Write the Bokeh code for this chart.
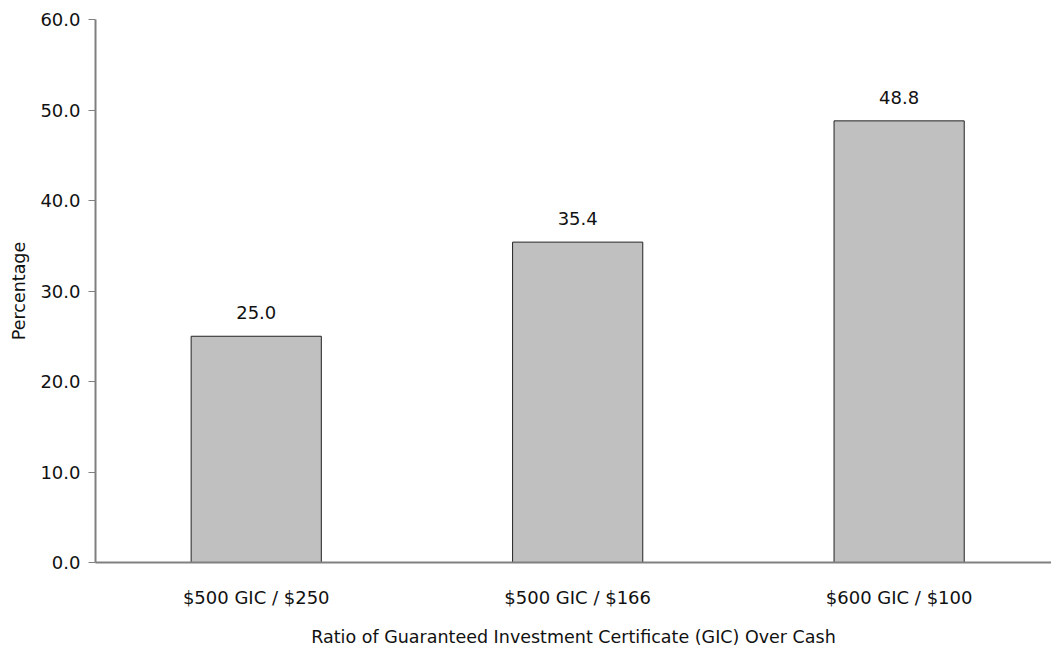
from bokeh.plotting import figure
from bokeh.models import ColumnDataSource, FixedTicker, Range1d
from bokeh.core.properties import value
from bokeh.embed import file_html
from bokeh.resources import INLINE

categories = ["$500 GIC / $250", "$500 GIC / $166", "$600 GIC / $100"]
percentages = [25.0, 35.4, 48.8]
y_ticks = [0, 10, 20, 30, 40, 50, 60]

FONT = "DejaVu Sans"
FS = "18px"

xs = list(range(len(categories)))
src = ColumnDataSource(dict(x=xs, top=percentages,
                            label=[f"{v:.1f}" for v in percentages]))

p = figure(width=1043, height=640, output_backend="svg", toolbar_location=None,
           x_range=Range1d(-0.5, 2.474), y_range=Range1d(0, 60),
           min_border_left=95, min_border_right=0, min_border_top=19,
           min_border_bottom=78)
p.frame_height = 543
p.frame_width = 956
p.outline_line_color = None
p.xgrid.visible = False
p.ygrid.visible = False

p.vbar(x="x", top="top", width=0.405, source=src, fill_color="#c0c0c0",
       line_color="#222222", line_width=1)
p.text(x="x", y="top", text="label", source=src, text_align="center",
       text_baseline="bottom", y_offset=-17, text_font=value(FONT),
       text_font_size=FS, text_color="#111111")

p.yaxis.ticker = FixedTicker(ticks=y_ticks)
p.yaxis.formatter.use_scientific = False
p.yaxis.major_label_overrides = {t: f"{t:.1f}" for t in y_ticks}
p.yaxis.minor_tick_line_color = None
p.yaxis.major_tick_out = 7
p.yaxis.major_tick_in = 0
p.yaxis.axis_line_color = "#808080"
p.yaxis.major_tick_line_color = "#808080"
p.yaxis.axis_label = "Percentage"

p.xaxis.ticker = FixedTicker(ticks=xs)
p.xaxis.major_label_overrides = {i: c for i, c in enumerate(categories)}
p.xaxis.major_tick_line_color = None
p.xaxis.minor_tick_line_color = None
p.xaxis.axis_line_color = "#808080"
p.xaxis.axis_label = "Ratio of Guaranteed Investment Certificate (GIC) Over Cash"

for ax in (p.xaxis, p.yaxis):
    ax.major_label_text_font = FONT
    ax.major_label_text_font_size = FS
    ax.major_label_text_color = "#111111"
    ax.axis_label_text_font = FONT
    ax.axis_label_text_font_size = "17.5px"
    ax.axis_label_text_font_style = "normal"
    ax.axis_label_text_color = "#111111"
    ax.axis_line_width = 2

p.xaxis.major_label_standoff = 18
p.xaxis.axis_label_standoff = 16
p.yaxis.major_label_standoff = 8
p.yaxis.axis_label_standoff = 8

open("out.html", "w").write(file_html(p, INLINE))
